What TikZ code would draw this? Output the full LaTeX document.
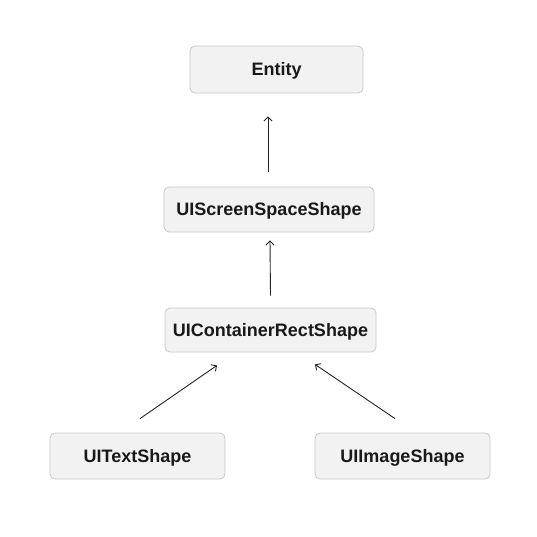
\documentclass[tikz,border=0pt]{standalone}
\usepackage{fontspec}
\setmainfont{Liberation Sans}
\usetikzlibrary{arrows.meta}
\definecolor{boxfill}{HTML}{F2F2F2}
\definecolor{boxline}{HTML}{C8C8C8}
\tikzset{
  cls/.style={draw=boxline, fill=boxfill, rounded corners=5pt, line width=0.8pt,
    inner sep=0pt, text height=12pt, text depth=0pt,
    font=\bfseries\fontsize{18}{20}\selectfont, text=black!90},
  arr/.style={draw=black!85, line width=0.9pt, -{Straight Barb[length=4pt,width=8pt]}}
}
\begin{document}
\begin{tikzpicture}[x=1pt,y=-1pt]
\useasboundingbox (0,0) rectangle (537,537);
\fill[white] (0,0) rectangle (537,537);
\node[cls, minimum width=173pt, minimum height=47pt] (ent) at (276.5,69.5) {Entity};
\node[cls, minimum width=210pt, minimum height=45pt] (ss) at (269,209.5) {UIScreenSpaceShape};
\node[cls, minimum width=211pt, minimum height=44pt] (cont) at (270.5,330) {UIContainerRectShape};
\node[cls, minimum width=175pt, minimum height=46pt] (txt) at (137.5,456) {UITextShape};
\node[cls, minimum width=175pt, minimum height=46pt] (img) at (402.5,456) {UIImageShape};
\draw[arr] ([xshift=-1pt,yshift=15pt]ss.north) -- ([xshift=-8.5pt,yshift=-23pt]ent.south);
\draw[arr] ([yshift=12pt]cont.north) -- ([xshift=1pt,yshift=-8pt]ss.south);
\draw[arr] ([xshift=2.5pt,yshift=14pt]txt.north) -- ([xshift=-53.5pt,yshift=-13pt]cont.south);
\draw[arr] ([xshift=-7.5pt,yshift=14pt]img.north) -- ([xshift=44.5pt,yshift=-12pt]cont.south);
\end{tikzpicture}
\end{document}
